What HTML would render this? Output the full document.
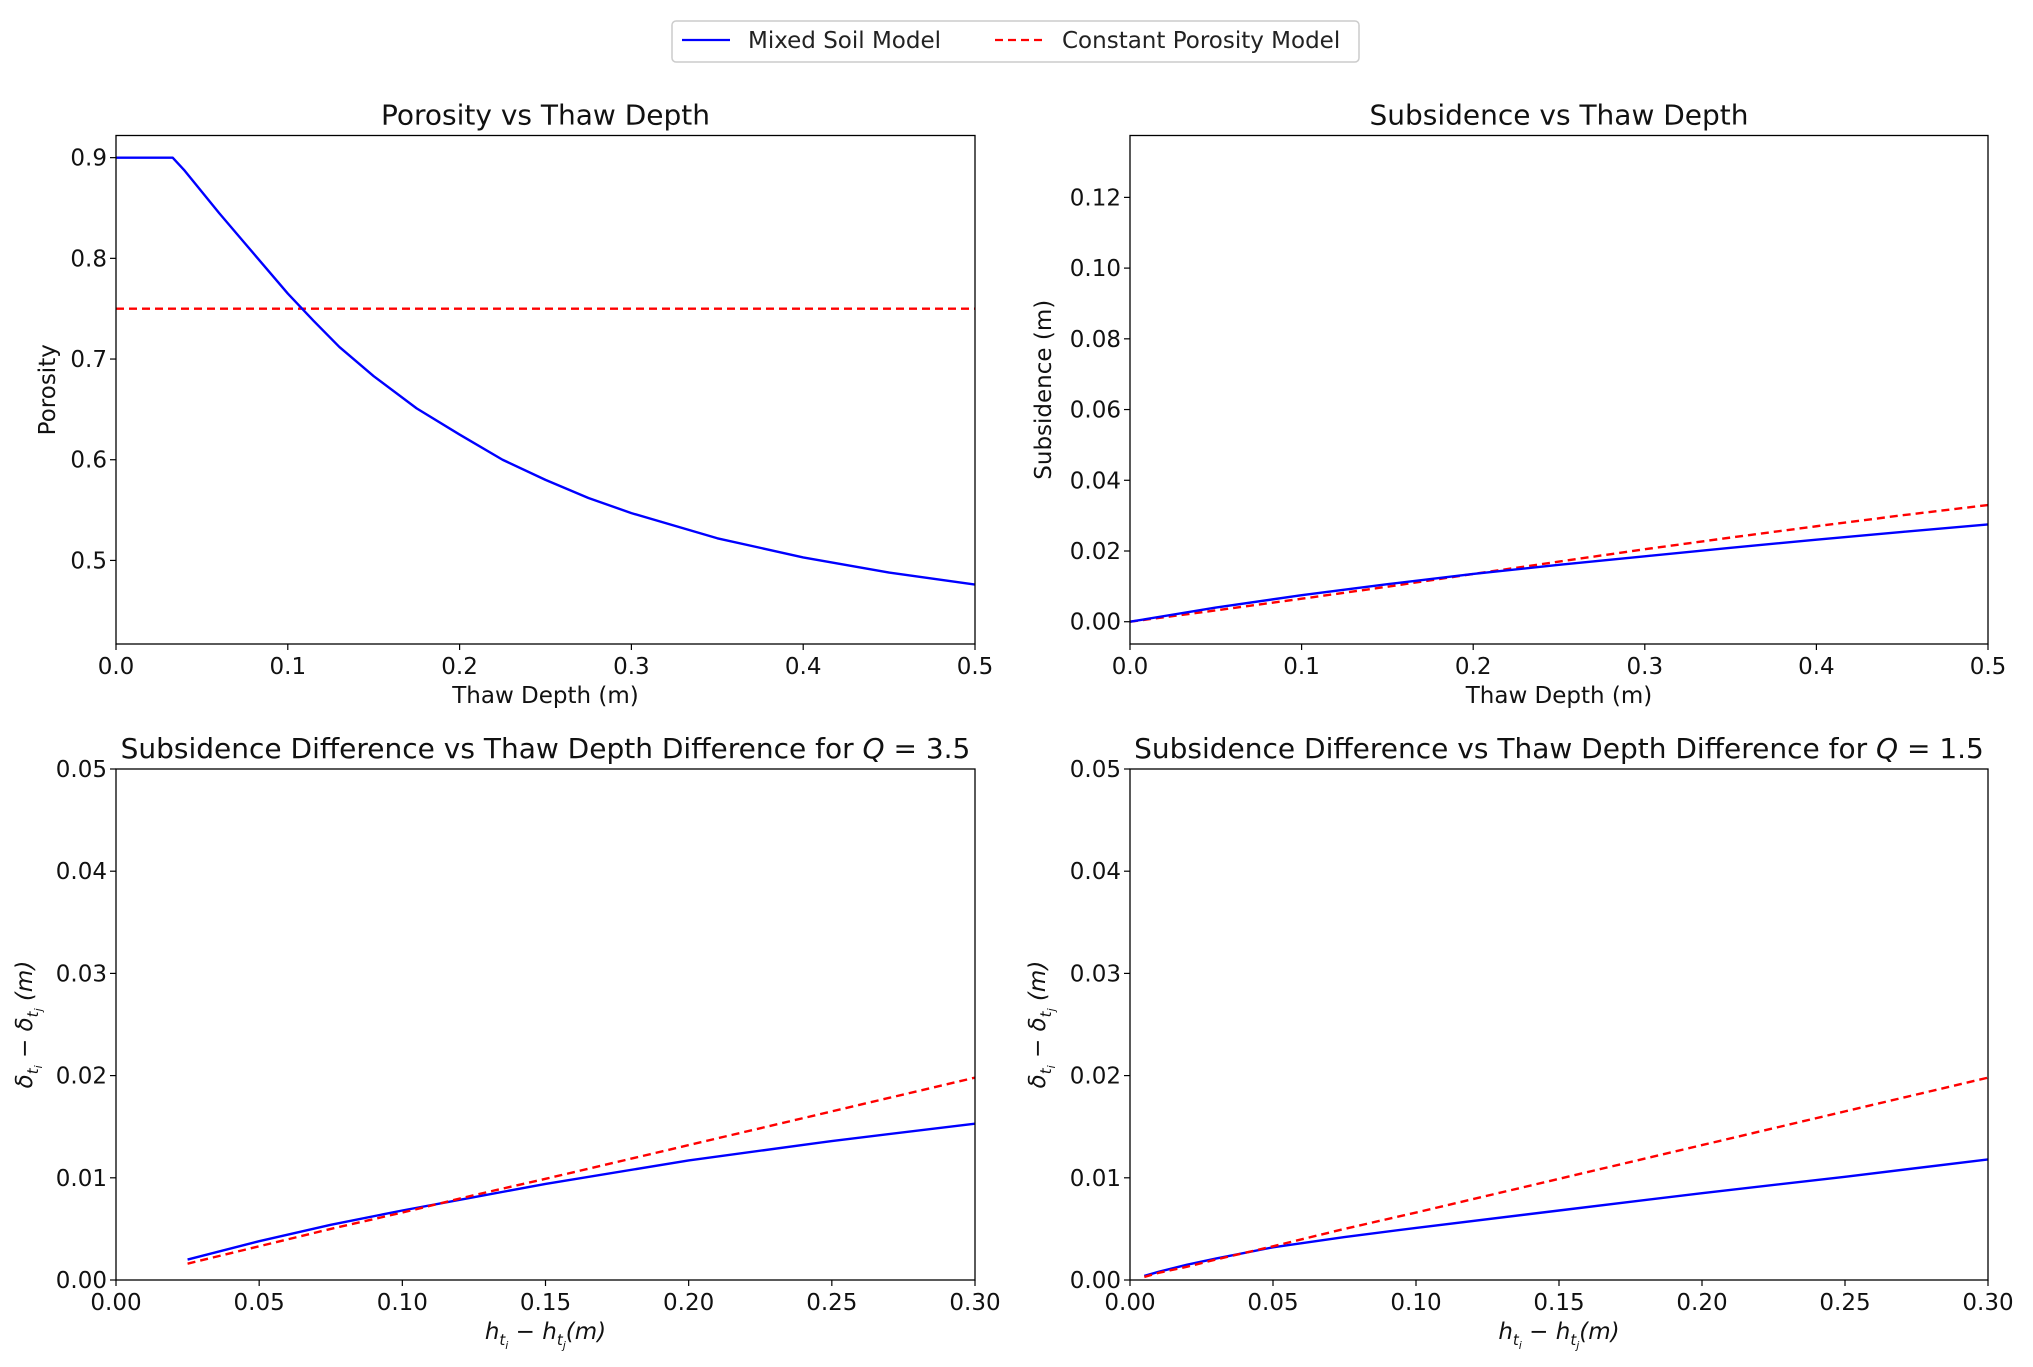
<!DOCTYPE html>
<html><head><meta charset="utf-8"><style>
html,body{margin:0;padding:0;background:#fff;}
svg{display:block;font-family:"DejaVu Sans","Liberation Sans",sans-serif;}
</style></head><body>
<svg id="chart" width="2033" height="1367" viewBox="0 0 2033 1367" xmlns="http://www.w3.org/2000/svg">
<g>
<rect x="672" y="21" width="687" height="41" rx="4" fill="#fff" stroke="#ccc" stroke-width="1.5"/>
<line x1="682" y1="40" x2="730" y2="40" stroke="#0000ff" stroke-width="2.2"/>
<text x="748" y="48" font-size="23" fill="#222">Mixed Soil Model</text>
<line x1="995" y1="40" x2="1043" y2="40" stroke="#ff0000" stroke-width="2.2" stroke-dasharray="8,5"/>
<text x="1062" y="48" font-size="23" fill="#222">Constant Porosity Model</text>
</g>
</svg>
<script>
// Panel 1: porosity
const porX = [0, 0.033, 0.04, 0.05, 0.06, 0.075, 0.09, 0.1, 0.115, 0.13, 0.15, 0.175, 0.2, 0.225, 0.25, 0.275, 0.3, 0.35, 0.4, 0.45, 0.5];
const porMixed = [0.9, 0.9, 0.887, 0.866, 0.845, 0.815, 0.785, 0.765, 0.738, 0.712, 0.683, 0.651, 0.625, 0.6, 0.58, 0.562, 0.547, 0.522, 0.503, 0.488, 0.476];
const porConstX = [0, 0.5];
const porConst = [0.75, 0.75];
// Panel 2: subsidence
const subX = [0, 0.05, 0.1, 0.15, 0.2, 0.25, 0.3, 0.35, 0.4, 0.45, 0.5];
const subMixed = [0, 0.004, 0.0075, 0.0106, 0.0135, 0.0161, 0.0185, 0.0209, 0.0232, 0.0254, 0.0275];
const subConst = [0, 0.0032, 0.0065, 0.0099, 0.0135, 0.017, 0.0205, 0.0238, 0.027, 0.0301, 0.033];
// Panel 3: Q=3.5
const q35X = [0.025, 0.05, 0.075, 0.1, 0.125, 0.15, 0.2, 0.25, 0.3];
const q35Mixed = [0.002, 0.0038, 0.0054, 0.0068, 0.0081, 0.0094, 0.0117, 0.0136, 0.0153];
const q35Const = [0.0016, 0.0033, 0.005, 0.0066, 0.0083, 0.0099, 0.0132, 0.0165, 0.0198];
// Panel 4: Q=1.5
const q15X = [0.005, 0.01, 0.02, 0.03, 0.05, 0.075, 0.1, 0.15, 0.2, 0.25, 0.3];
const q15Mixed = [0.0004, 0.0008, 0.0015, 0.0021, 0.0032, 0.0042, 0.0051, 0.0068, 0.0085, 0.0101, 0.0118];
const q15Const = [0.0003, 0.0007, 0.0013, 0.002, 0.0033, 0.005, 0.0066, 0.0099, 0.0132, 0.0165, 0.0198];
// ticks
const ticksPorX = ["0.0","0.1","0.2","0.3","0.4","0.5"];
const ticksPorY = ["0.5","0.6","0.7","0.8","0.9"];
const ticksSubY = ["0.00","0.02","0.04","0.06","0.08","0.10","0.12"];
const ticksDiffX = ["0.00","0.05","0.10","0.15","0.20","0.25","0.30"];
const ticksDiffY = ["0.00","0.01","0.02","0.03","0.04","0.05"];

const NS = "http://www.w3.org/2000/svg";
const svg = document.getElementById('chart');
function mk(tag, attrs, parent, txt){
  const e = document.createElementNS(NS, tag);
  for (const k in attrs) e.setAttribute(k, attrs[k]);
  if (txt !== undefined) e.textContent = txt;
  parent.appendChild(e); return e;
}
function panel(cfg){
  const g = mk('g', {}, svg);
  
  
  const L=cfg.L,R=cfg.R,T=cfg.T,B=cfg.B;
  const sx = v => L + (v - cfg.x0)/(cfg.x1 - cfg.x0)*(R-L);
  const sy = v => B - (v - cfg.y0)/(cfg.y1 - cfg.y0)*(B-T);
  function line(xs, ys, color, dash, nm){
    const d = xs.map((x,i)=>(i?'L':'M')+sx(x).toFixed(2)+','+sy(ys[i]).toFixed(2)).join(' ');
    const p = mk('path', {d:d, fill:'none', stroke:color, 'stroke-width':2.4, 'stroke-dasharray':dash||'none', 'stroke-linejoin':'round'}, g);
    
    
  }
  cfg.series.forEach(s => line(s.x, s.y, s.c, s.d, s.n));
  const frame = mk('rect', {x:L, y:T, width:R-L, height:B-T, fill:'none', stroke:'#000', 'stroke-width':1.3}, g);
  
  
  cfg.xt.forEach(t => {
    const x = sx(parseFloat(t));
    mk('line', {x1:x, x2:x, y1:B, y2:B+6, stroke:'#000', 'stroke-width':1.2}, g);
    const tx = mk('text', {x:x, y:B+30, 'font-size':23, 'text-anchor':'middle', fill:'#111'}, g, t);
    
    
  });
  cfg.yt.forEach(t => {
    const y = sy(parseFloat(t));
    mk('line', {x1:L-6, x2:L, y1:y, y2:y, stroke:'#000', 'stroke-width':1.2}, g);
    const ty = mk('text', {x:L-9, y:y+8, 'font-size':23, 'text-anchor':'end', fill:'#111'}, g, t);
    
    
  });
  const ti = mk('text', {x:(L+R)/2, y:T-11, 'font-size':28, 'text-anchor':'middle', fill:'#111'}, g);
  
  
  ti.innerHTML = cfg.title;
  const xl = mk('text', {x:(L+R)/2, y:B+59, 'font-size':23, 'text-anchor':'middle', fill:'#111'}, g);
  
  
  xl.innerHTML = cfg.xlabel;
  const yl = mk('text', {x:0, y:0, 'font-size':23, 'text-anchor':'middle', fill:'#111', transform:'translate('+cfg.ylx+','+((T+B)/2)+') rotate(-90)'}, g);
  
  
  yl.innerHTML = cfg.ylabel;
}
const blue='#0000ff', red='#ff0000', dash='8,5';
const hLabel = '<tspan font-style="italic">h</tspan><tspan font-style="italic" font-size="15" dy="6">t</tspan><tspan font-style="italic" font-size="11" dy="4">i</tspan><tspan dy="-10"> − </tspan><tspan font-style="italic">h</tspan><tspan font-style="italic" font-size="15" dy="6">t</tspan><tspan font-style="italic" font-size="11" dy="4">j</tspan><tspan dy="-10" font-style="italic">(m)</tspan>';
const dLabel = '<tspan font-style="italic">δ</tspan><tspan font-style="italic" font-size="15" dy="6">t</tspan><tspan font-style="italic" font-size="11" dy="4">i</tspan><tspan dy="-10"> − </tspan><tspan font-style="italic">δ</tspan><tspan font-style="italic" font-size="15" dy="6">t</tspan><tspan font-style="italic" font-size="11" dy="4">j</tspan><tspan dy="-10" font-style="italic"> (m)</tspan>';
panel({name:'porosity-panel', L:116, R:975, T:135.5, B:644, x0:0, x1:0.5, y0:0.417, y1:0.922,
  xt:ticksPorX, yt:ticksPorY, title:'Porosity vs Thaw Depth', xlabel:'Thaw Depth (m)', ylabel:'Porosity', ylx:55,
  series:[{x:porConstX,y:porConst,c:red,d:dash,n:'constant-porosity-line'},{x:porX,y:porMixed,c:blue,n:'mixed-porosity-line'}]});
panel({name:'subsidence-panel', L:1130, R:1988, T:135.5, B:644, x0:0, x1:0.5, y0:-0.0063, y1:0.1375,
  xt:ticksPorX, yt:ticksSubY, title:'Subsidence vs Thaw Depth', xlabel:'Thaw Depth (m)', ylabel:'Subsidence (m)', ylx:1051,
  series:[{x:subX,y:subConst,c:red,d:dash,n:'constant-subsidence-line'},{x:subX,y:subMixed,c:blue,n:'mixed-subsidence-line'}]});
panel({name:'q35-panel', L:116, R:975, T:769, B:1280, x0:0, x1:0.3, y0:0, y1:0.05,
  xt:ticksDiffX, yt:ticksDiffY, title:'Subsidence Difference vs Thaw Depth Difference for <tspan font-style="italic">Q</tspan> = 3.5', xlabel:hLabel, ylabel:dLabel, ylx:32,
  series:[{x:q35X,y:q35Mixed,c:blue,n:'mixed-diff-line'},{x:q35X,y:q35Const,c:red,d:dash,n:'constant-diff-line'}]});
panel({name:'q15-panel', L:1130, R:1988, T:769, B:1280, x0:0, x1:0.3, y0:0, y1:0.05,
  xt:ticksDiffX, yt:ticksDiffY, title:'Subsidence Difference vs Thaw Depth Difference for <tspan font-style="italic">Q</tspan> = 1.5', xlabel:hLabel, ylabel:dLabel, ylx:1045,
  series:[{x:q15X,y:q15Mixed,c:blue,n:'mixed-diff-line'},{x:q15X,y:q15Const,c:red,d:dash,n:'constant-diff-line'}]});
</script>
</body></html>
